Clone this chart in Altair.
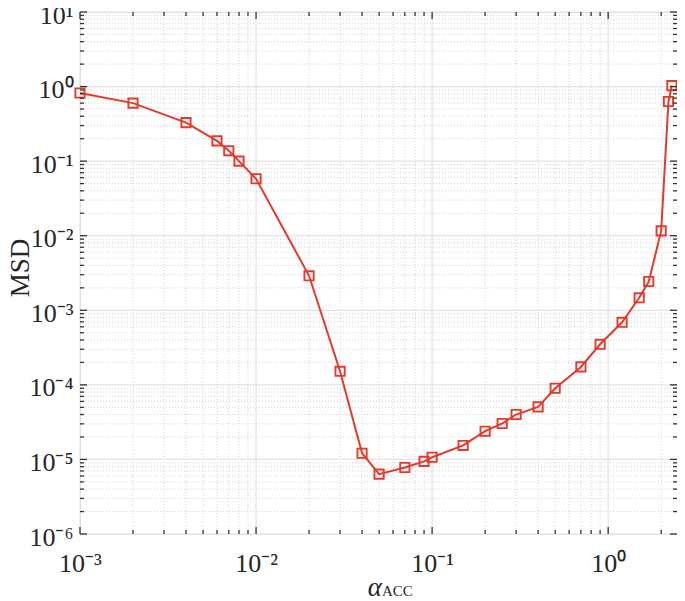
import altair as alt
import pandas as pd

alpha = [0.001, 0.002, 0.004, 0.006, 0.007, 0.008, 0.01, 0.02, 0.03, 0.04, 0.05,
         0.07, 0.09, 0.1, 0.15, 0.2, 0.25, 0.3, 0.4, 0.5, 0.7, 0.9, 1.2, 1.5,
         1.7, 2.0, 2.2, 2.3]
msd = [0.82, 0.60, 0.328, 0.187, 0.138, 0.10, 0.058, 0.0029, 1.52e-4, 1.21e-5,
       6.35e-6, 7.8e-6, 9.4e-6, 1.07e-5, 1.54e-5, 2.39e-5, 3.03e-5, 4.0e-5,
       5.07e-5, 9.0e-5, 1.74e-4, 3.5e-4, 6.9e-4, 1.47e-3, 2.43e-3, 0.0116,
       0.63, 1.03]

x_major = [1e-3, 1e-2, 1e-1, 1.0]
x_minor = [m * d for d in [1e-3, 1e-2, 1e-1] for m in range(2, 10)] + [2.0]
y_major = [10.0 ** e for e in range(-6, 2)]
y_minor = [m * 10.0 ** e for e in range(-6, 1) for m in range(2, 10)]

W, H = 597, 522
RED = "#e5392b"
AX = "#333333"
FONT = "Liberation Serif"

xs = alt.Scale(type="log", domain=[1e-3, 2.46], nice=False)
ys = alt.Scale(type="log", domain=[1e-6, 10], nice=False)

sup = ("'10' + (round(log(datum.value)/LN10) < 0 ? '\u207b' : '') + "
       "substring('\u2070\u00b9\u00b2\u00b3\u2074\u2075\u2076\u2077\u2078\u2079', "
       "abs(round(log(datum.value)/LN10)), abs(round(log(datum.value)/LN10)) + 1)")

xaxis = alt.Axis(values=x_major, labelExpr=sup, ticks=False, domain=False, grid=False,
                 labelFont=FONT, labelFontSize=26, labelColor="#262626", title=None,
                 labelPadding=16, labelFlush=False, labelOverlap=False, labelBound=False)
yaxis = alt.Axis(values=y_major, labelExpr=sup, ticks=False, domain=False, grid=False,
                 labelFont=FONT, labelFontSize=26, labelColor="#262626", title=None,
                 labelPadding=7, labelOffset=3, labelFlush=False, labelOverlap=False,
                 labelBound=False)

df = pd.DataFrame({"alpha": alpha, "msd": msd})
dxmaj = pd.DataFrame({"v": x_major})
dxmin = pd.DataFrame({"v": x_minor})
dymaj = pd.DataFrame({"v": y_major})
dymin = pd.DataFrame({"v": y_minor})


def X(f):
    return alt.X(f, type="quantitative", scale=xs, axis=xaxis)


def Y(f):
    return alt.Y(f, type="quantitative", scale=ys, axis=yaxis)


layers = []
# grids
layers.append(alt.Chart(dxmin).mark_rule(color="#d2d2d2", strokeWidth=1, strokeDash=[1, 2]).encode(x=X("v")))
layers.append(alt.Chart(dymin).mark_rule(color="#d2d2d2", strokeWidth=1, strokeDash=[1, 2]).encode(y=Y("v")))
layers.append(alt.Chart(dxmaj).mark_rule(color="#e3e3e3", strokeWidth=1.2).encode(x=X("v")))
layers.append(alt.Chart(dymaj).mark_rule(color="#e3e3e3", strokeWidth=1.2).encode(y=Y("v")))

# data
layers.append(alt.Chart(df).mark_line(color=RED, strokeWidth=2).encode(x=X("alpha"), y=Y("msd")))
layers.append(alt.Chart(df).mark_point(shape="square", filled=False, color=RED, size=85,
                                       strokeWidth=1.9, opacity=1).encode(x=X("alpha"), y=Y("msd")))


# inward ticks, all four sides
def xticks(d, L):
    return [
        alt.Chart(d).mark_rule(color=AX, strokeWidth=1.3).encode(
            x=X("v"), y=alt.value(H), y2=alt.value(H - L)),
        alt.Chart(d).mark_rule(color=AX, strokeWidth=1.3).encode(
            x=X("v"), y=alt.value(0), y2=alt.value(L)),
    ]


def yticks(d, L):
    return [
        alt.Chart(d).mark_rule(color=AX, strokeWidth=1.3).encode(
            y=Y("v"), x=alt.value(0), x2=alt.value(L)),
        alt.Chart(d).mark_rule(color=AX, strokeWidth=1.3).encode(
            y=Y("v"), x=alt.value(W), x2=alt.value(W - L)),
    ]


layers += xticks(dxmaj, 7) + xticks(dxmin, 4) + yticks(dymaj, 7) + yticks(dymin, 4)

# titles
layers.append(alt.Chart(pd.DataFrame({"t": ["MSD"]})).mark_text(
    font=FONT, fontSize=27, color="#262626", angle=270, baseline="alphabetic", align="center").encode(
    x=alt.value(-51), y=alt.value(H / 2 - 5), text="t:N"))
layers.append(alt.Chart(pd.DataFrame({"t": ["\u03b1"]})).mark_text(
    font=FONT, fontSize=27, fontStyle="italic", color="#262626", baseline="alphabetic", align="right").encode(
    x=alt.value(302), y=alt.value(H + 62), text="t:N"))
layers.append(alt.Chart(pd.DataFrame({"t": ["ACC"]})).mark_text(
    font=FONT, fontSize=15, color="#262626", baseline="alphabetic", align="left").encode(
    x=alt.value(302), y=alt.value(H + 62), text="t:N"))

chart = alt.layer(*layers).properties(
    width=W, height=H,
    autosize=alt.AutoSizeParams(type="none"),
    padding={"left": 72, "top": 4, "right": 0, "bottom": 65},
).configure_view(stroke=AX, strokeWidth=1.5).configure(background="white")

chart.save("out.html", embed_options={"renderer": "svg", "actions": False})
